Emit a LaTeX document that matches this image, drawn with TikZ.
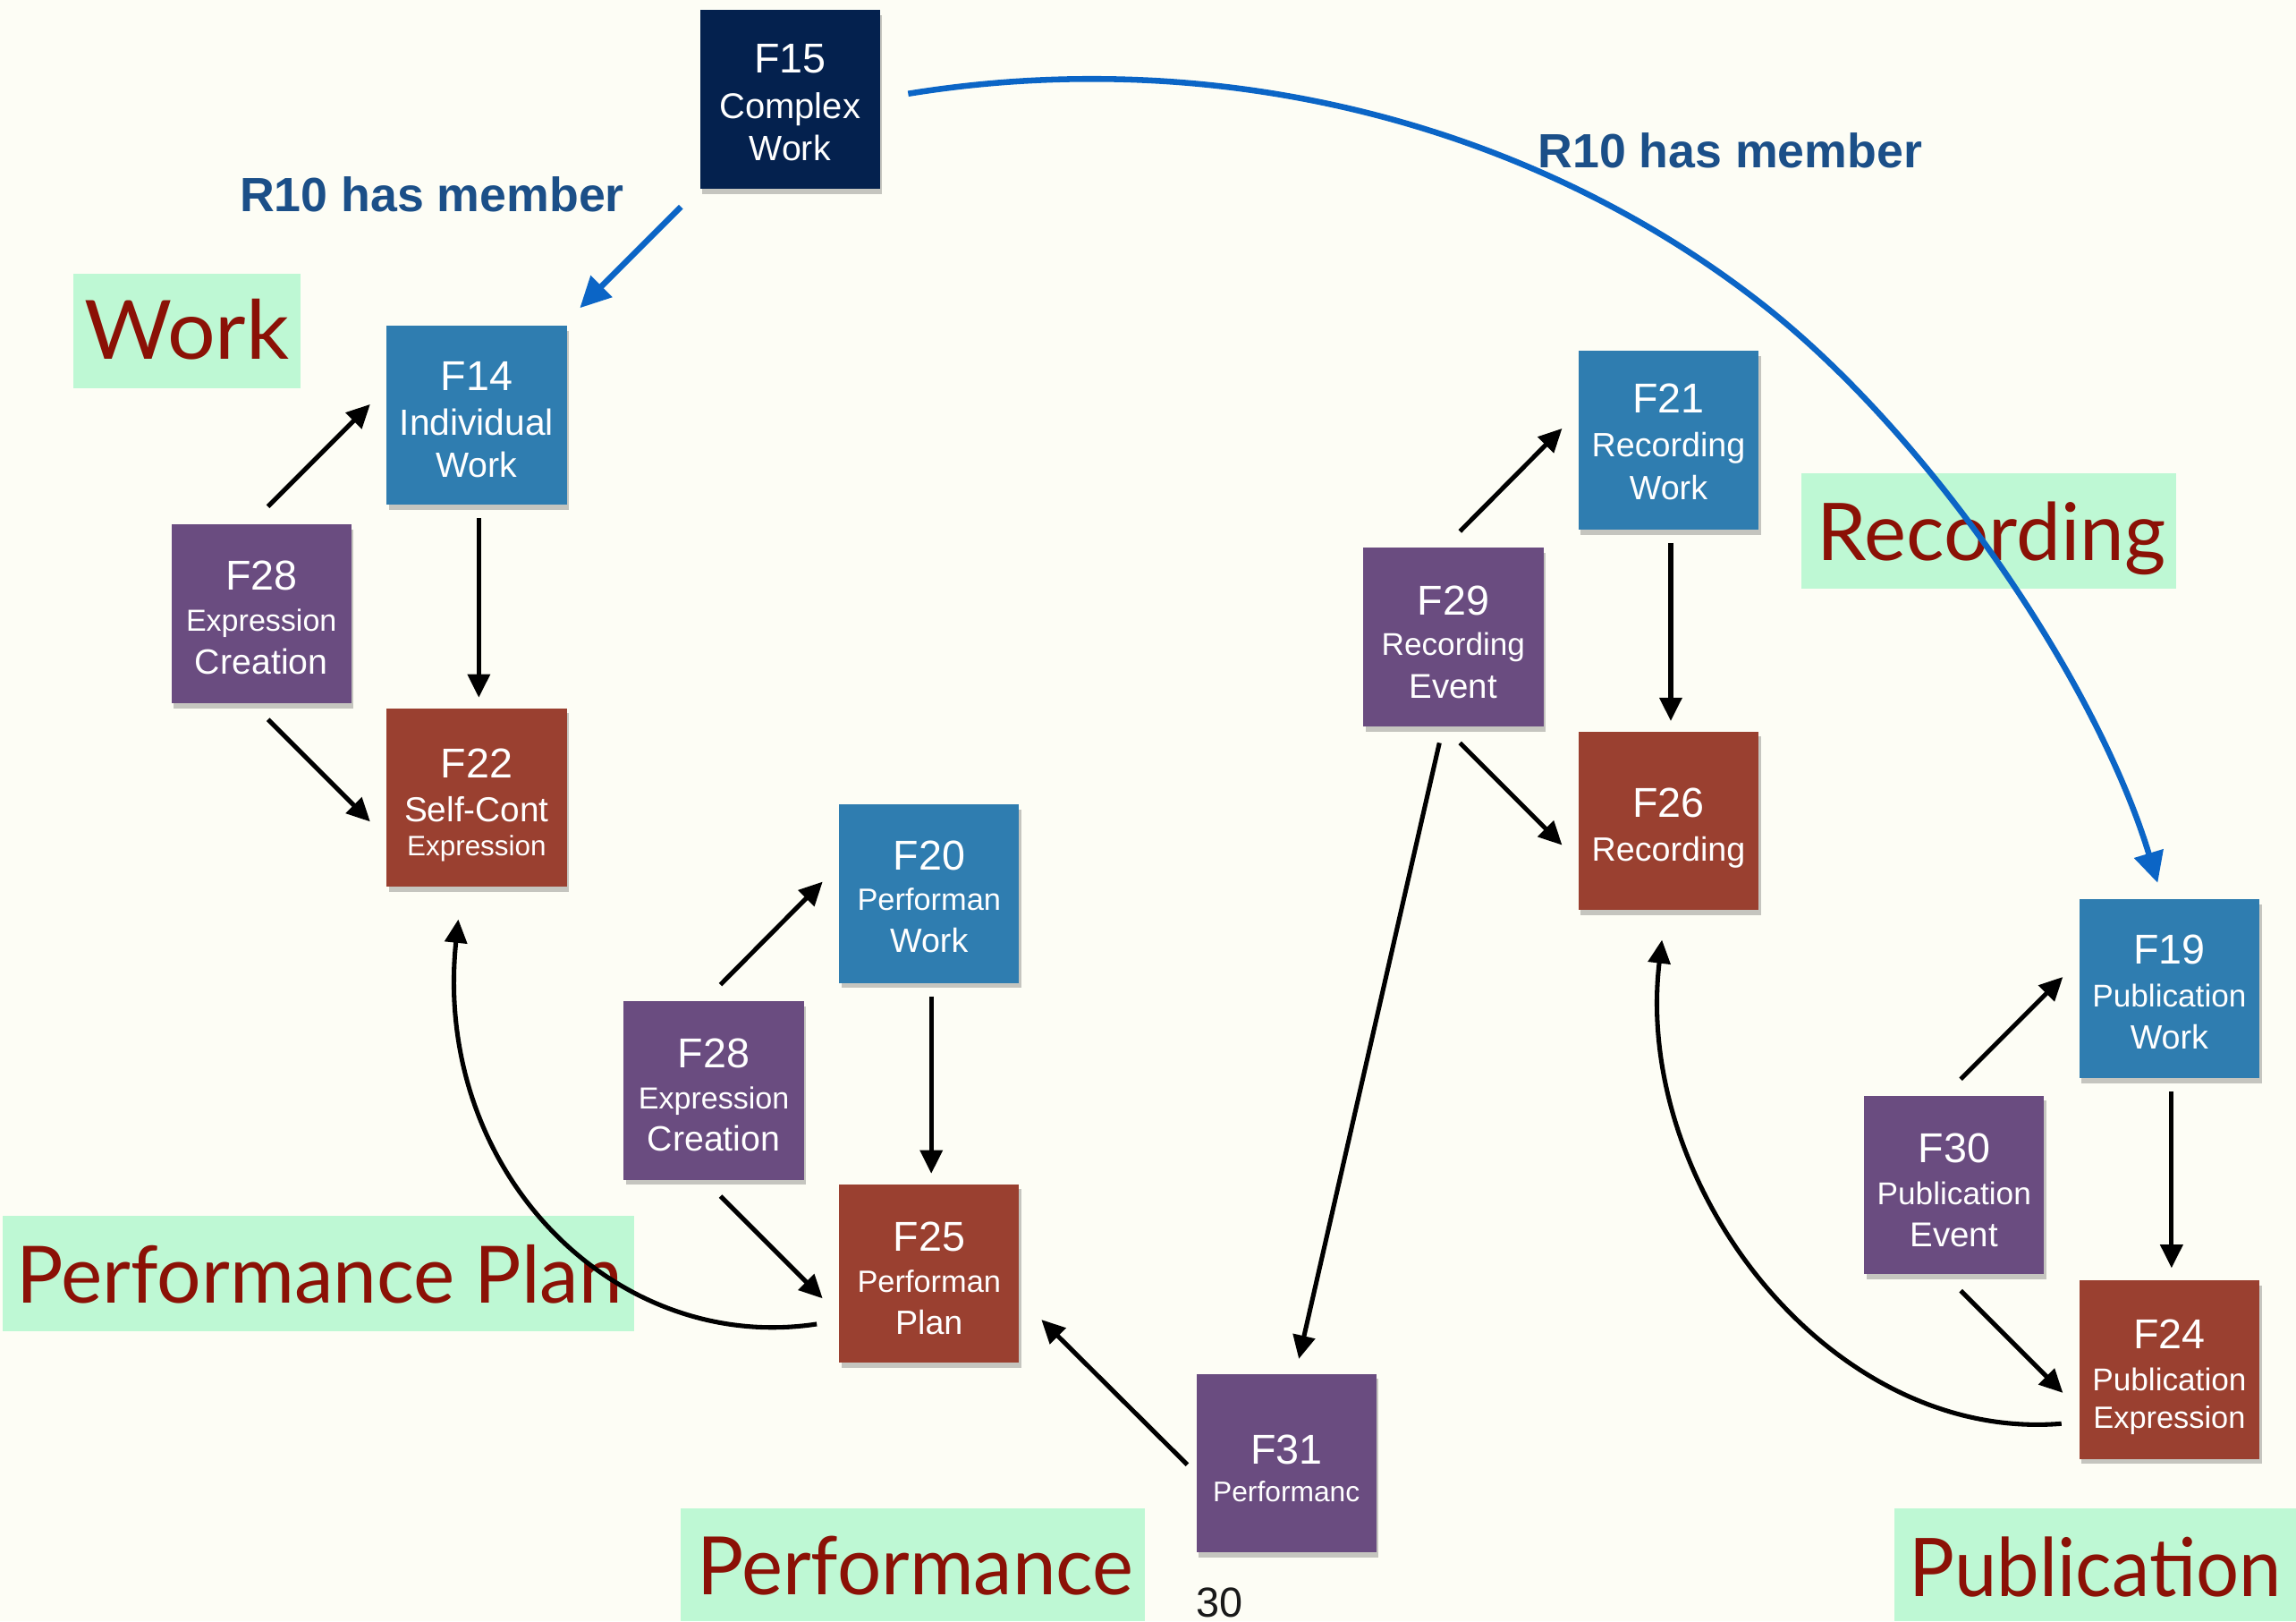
\documentclass[tikz,border=0pt]{standalone}
\usepackage{fontspec}
\usepackage{graphicx}
\setmainfont{Liberation Sans}
\newfontfamily\gillfont{Lato}
\usetikzlibrary{arrows.meta,calc,shadows}
\definecolor{bgcol}{HTML}{FDFDF5}
\definecolor{navybox}{HTML}{04214E}
\definecolor{bluebox}{HTML}{2F7DB0}
\definecolor{purplebox}{HTML}{6A4C80}
\definecolor{redbox}{HTML}{9A4030}
\definecolor{greenlab}{HTML}{BEF8D4}
\definecolor{labred}{HTML}{8B1106}
\definecolor{relblue}{HTML}{0B65C6}
\definecolor{reltext}{HTML}{1B4F88}
% \boxline{name}{font size}{position}{text}
\newcommand\boxline[4]{\node[btxt, font=\fontsize{#2}{#2}\selectfont] (#1) at #3 {#4};}
\tikzset{
  fbox/.style={minimum width=123pt, minimum height=122pt, inner sep=0pt,
    drop shadow={shadow xshift=1.5pt, shadow yshift=-3.5pt, fill=black, opacity=0.22}},
  btxt/.style={text=white, inner sep=0pt, anchor=base},
  blk/.style={draw=black, line width=3.1pt, -{Triangle[length=16pt,width=15pt]}},
  bluearr/.style={draw=relblue, line width=4pt, -{Triangle[length=21pt,width=20pt]}},
  labtxt/.style={text=labred, inner sep=0pt, anchor=base},
  reltxt/.style={text=reltext, inner sep=0pt, anchor=base, font=\bfseries\fontsize{32.8}{36}\selectfont},
}
\begin{document}
\begin{tikzpicture}[x=1pt,y=-1pt]
\fill[bgcol] (0,0) rectangle (1568,1107);
\useasboundingbox (0,0) rectangle (1568,1107);

% green label backgrounds
\fill[greenlab] (50,187) rectangle (205,265);
\fill[greenlab] (1230,323) rectangle (1486,402);
\fill[greenlab] (2,830) rectangle (433,909);
\fill[greenlab] (465,1030) rectangle (782,1107);
\fill[greenlab] (1294,1030) rectangle (1568,1107);

% label texts
\node[labtxt, font=\gillfont\fontsize{55.8}{60}\selectfont] (labWork) at (127.5,245.5) {\resizebox{140pt}{\height}{Work}};
\node[labtxt, font=\gillfont\fontsize{54.4}{60}\selectfont] (labRec) at (1360,382.5) {\resizebox{238pt}{\height}{Recording}};
\node[labtxt, font=\gillfont\fontsize{54}{60}\selectfont] (labPP) at (218,889.5) {\resizebox{414pt}{\height}{Performance Plan}};
\node[labtxt, font=\gillfont\fontsize{55}{60}\selectfont] (labPerf) at (625,1089) {\resizebox{298pt}{\height}{Performance}};
\node[labtxt, font=\gillfont\fontsize{55.3}{60}\selectfont] (labPub) at (1431,1090) {\resizebox{254pt}{\height}{Publication}};

% relation labels
\node[reltxt] (relL) at (295,144.5) {R10 has member};
\node[reltxt] (relR) at (1181.5,114.5) {R10 has member};

% page number
\node[anchor=base, inner sep=0pt, text=black!90, font=\fontsize{28.6}{30}\selectfont] (pagenum) at (832.6,1104) {30};

% boxes
\node[fbox, fill=navybox] (F15) at (539.5,68) {};
\node[fbox, fill=bluebox] (F14) at (325.5,283.5) {};
\node[fbox, fill=purplebox] (F28a) at (178.5,419) {};
\node[fbox, fill=redbox] (F22) at (325.5,544.5) {};
\node[fbox, fill=bluebox] (F20) at (634.5,610) {};
\node[fbox, fill=purplebox] (F28b) at (487.5,744.5) {};
\node[fbox, fill=redbox] (F25) at (634.5,869.5) {};
\node[fbox, fill=purplebox] (F31) at (878.5,999) {};
\node[fbox, fill=purplebox] (F29) at (992.5,435) {};
\node[fbox, fill=bluebox] (F21) at (1139.5,300.5) {};
\node[fbox, fill=redbox] (F26) at (1139.5,560.5) {};
\node[fbox, fill=bluebox] (F19) at (1481.5,675) {};
\node[fbox, fill=purplebox] (F30) at (1334.5,809) {};
\node[fbox, fill=redbox] (F24) at (1481.5,935) {};

% box texts
\boxline{F15a}{28.5}{($(F15)+(0,-18.2)$)}{F15}
\boxline{F15b}{24.4}{($(F15)+(0,13.1)$)}{Complex}
\boxline{F15c}{24}{($(F15)+(0,41.9)$)}{Work}

\boxline{F14a}{28.5}{($(F14)+(0,-17)$)}{F14}
\boxline{F14b}{24.9}{($(F14)+(0,13.9)$)}{Individual}
\boxline{F14c}{24}{($(F14)+(0,42.6)$)}{Work}

\boxline{F28aa}{28.5}{($(F28a)+(0,-16)$)}{F28}
\boxline{F28ab}{20.8}{($(F28a)+(0,12)$)}{Expression}
\boxline{F28ac}{24}{($(F28a)+(0,41)$)}{Creation}

\boxline{F22a}{28.5}{($(F22)+(0,-13.5)$)}{F22}
\boxline{F22b}{23.7}{($(F22)+(0,16.5)$)}{Self-Cont}
\boxline{F22c}{19.2}{($(F22)+(0,40)$)}{Expression}

\boxline{F20a}{28.5}{($(F20)+(0,-16)$)}{F20}
\boxline{F20b}{21}{($(F20)+(0,11.5)$)}{Performan}
\boxline{F20c}{23}{($(F20)+(0,40)$)}{Work}

\boxline{F28ba}{28.5}{($(F28b)+(0,-15.5)$)}{F28}
\boxline{F28bb}{20.8}{($(F28b)+(0,12.5)$)}{Expression}
\boxline{F28bc}{24}{($(F28b)+(0,41.5)$)}{Creation}

\boxline{F25a}{28.5}{($(F25)+(0,-15.5)$)}{F25}
\boxline{F25b}{21}{($(F25)+(0,13)$)}{Performan}
\boxline{F25c}{23}{($(F25)+(0,41.5)$)}{Plan}

\boxline{F31a}{28.5}{($(F31)+(0,0.8)$)}{F31}
\boxline{F31b}{19.4}{($(F31)+(0,26.2)$)}{Performanc}

\boxline{F29a}{28.5}{($(F29)+(0,-15.1)$)}{F29}
\boxline{F29b}{21.5}{($(F29)+(0,12.6)$)}{Recording}
\boxline{F29c}{23.5}{($(F29)+(0,41.9)$)}{Event}

\boxline{F21a}{28.5}{($(F21)+(0,-18.5)$)}{F21}
\boxline{F21b}{23}{($(F21)+(0,11.5)$)}{Recording}
\boxline{F21c}{23}{($(F21)+(0,40.5)$)}{Work}

\boxline{F26a}{28.5}{($(F26)+(0,-2.5)$)}{F26}
\boxline{F26b}{23}{($(F26)+(0,27.5)$)}{Recording}

\boxline{F19a}{28.5}{($(F19)+(0,-17)$)}{F19}
\boxline{F19b}{21.5}{($(F19)+(0,12.5)$)}{Publication}
\boxline{F19c}{23}{($(F19)+(0,41)$)}{Work}

\boxline{F30a}{28.5}{($(F30)+(0,-15)$)}{F30}
\boxline{F30b}{21.5}{($(F30)+(0,13.5)$)}{Publication}
\boxline{F30c}{23.5}{($(F30)+(0,42)$)}{Event}

\boxline{F24a}{28.5}{($(F24)+(0,-14)$)}{F24}
\boxline{F24b}{21.5}{($(F24)+(0,14.5)$)}{Publication}
\boxline{F24c}{21}{($(F24)+(0,40)$)}{Expression}

% black arrows: creation events
\draw[blk] ($(F28a.north)+(4.5,-12)$) -- ($(F14.west)+(-11,-7.5)$);
\draw[blk] ($(F28a.south)+(4.5,11)$) -- ($(F22.west)+(-11,16.5)$);
\draw[blk] ($(F14.south)+(1.5,9)$) -- ($(F22.north)+(1.5,-7)$);

\draw[blk] ($(F28b.north)+(4.5,-11)$) -- ($(F20.west)+(-11,-8)$);
\draw[blk] ($(F28b.south)+(4.5,11)$) -- ($(F25.west)+(-11,17)$);
\draw[blk] ($(F20.south)+(1.5,9)$) -- ($(F25.north)+(1.5,-7)$);

\draw[blk] ($(F29.north)+(4.5,-11)$) -- ($(F21.west)+(-11,-8)$);
\draw[blk] ($(F29.south)+(4.5,11)$) -- ($(F26.west)+(-11,16.5)$);
\draw[blk] ($(F21.south)+(1.5,9)$) -- ($(F26.north)+(1.5,-7)$);

\draw[blk] ($(F30.north)+(4.5,-11)$) -- ($(F19.west)+(-11,-8)$);
\draw[blk] ($(F30.south)+(4.5,11)$) -- ($(F24.west)+(-11,16)$);
\draw[blk] ($(F19.south)+(1.5,9)$) -- ($(F24.north)+(1.5,-8)$);

% performance links
\draw[blk] ($(F29.south)+(-9.5,11)$) -- ($(F31.north)+(8.5,-10)$);
\draw[blk] ($(F31.west)+(-6,1)$) -- ($(F25.east)+(15,31.5)$);

% curved links
\draw[blk] ($(F25.west)+(-15,34.5)$) .. controls (420,925) and (295,800) .. ($(F22.south)+(-12.5,22)$);
\draw[blk] ($(F24.west)+(-12,37)$) .. controls (1250,985) and (1115,810) .. ($(F26.south)+(-4.5,20)$);

% blue R10 has member
\draw[bluearr] ($(F15.south)+(-74.5,12)$) -- ($(F14.north)+(70.5,-12)$);
\draw[bluearr] ($(F15.east)+(19,-4)$) .. controls (830,30) and (1042,83) .. (1200,205)
  .. controls (1318,296) and (1432,466) .. ($(F19.north)+(-8,-11)$);
\end{tikzpicture}
\end{document}
